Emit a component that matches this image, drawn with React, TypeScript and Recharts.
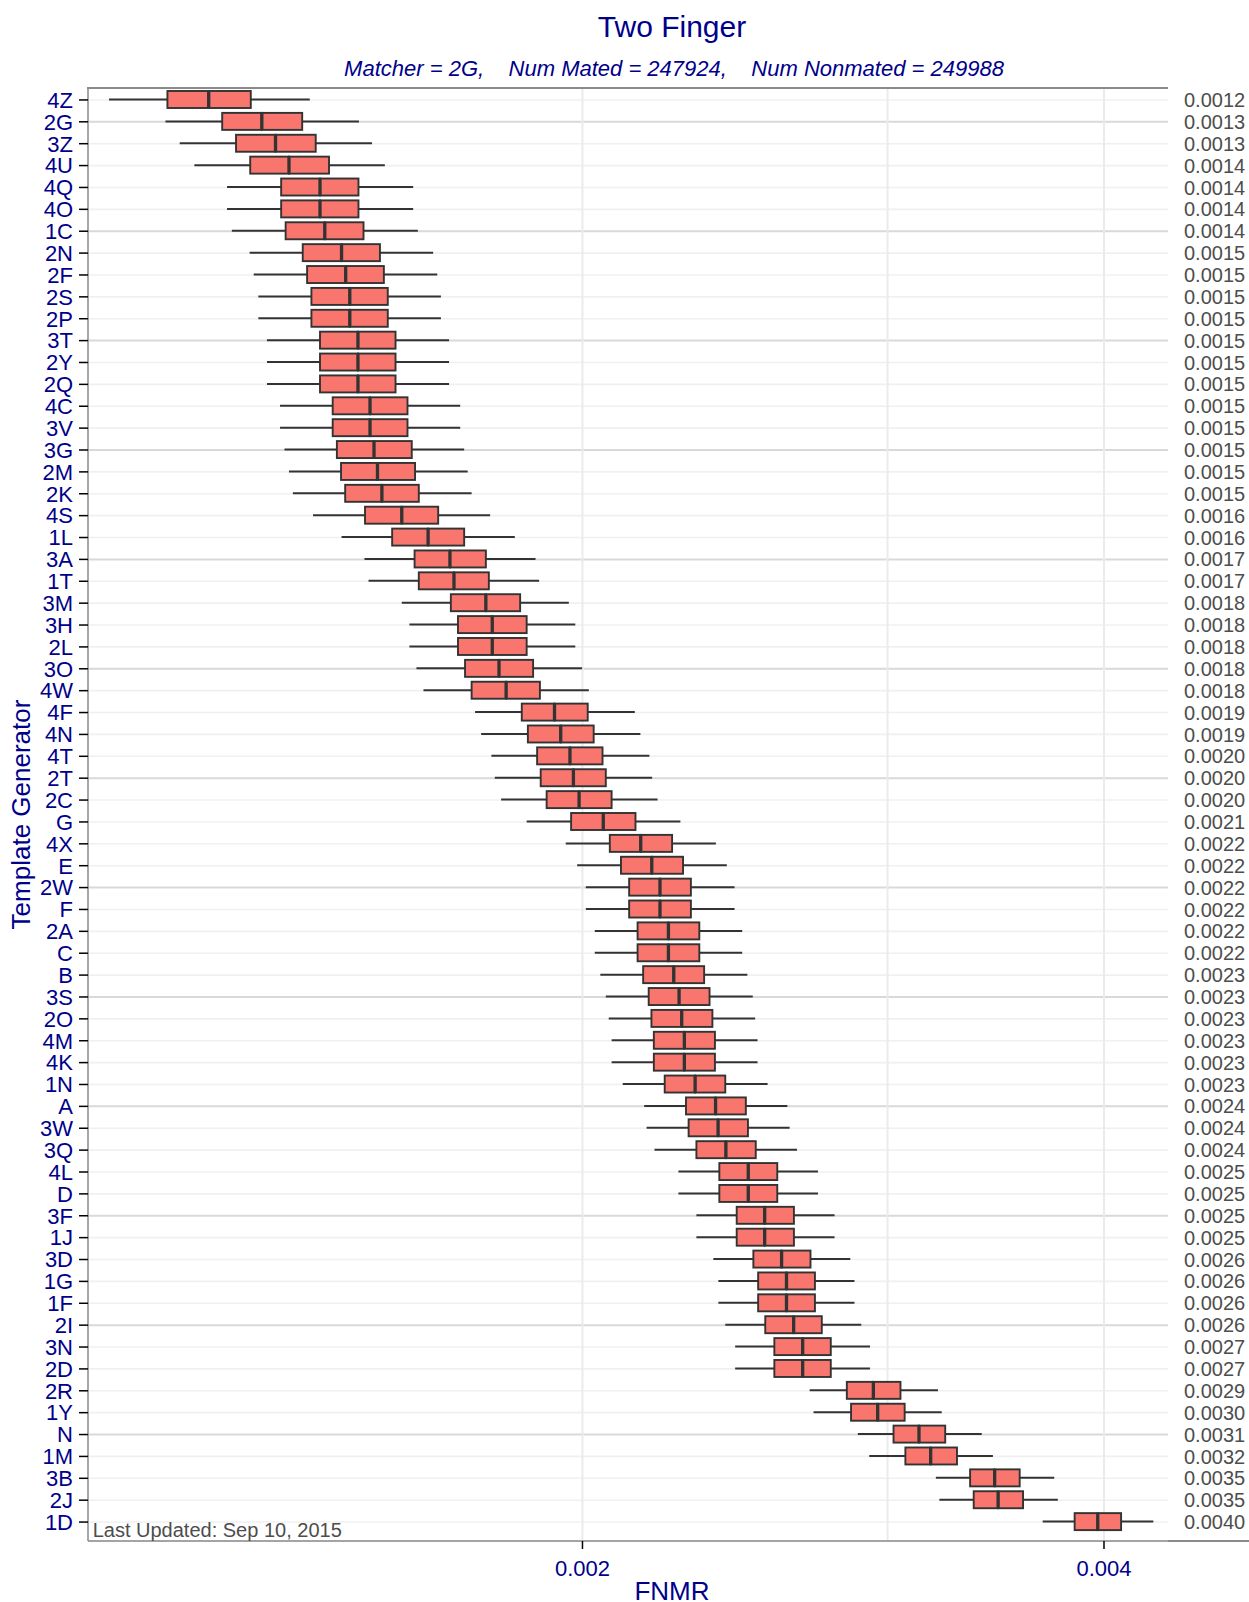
import { Bar, CartesianGrid, ComposedChart, XAxis, YAxis } from 'recharts'

// template generators, top to bottom
const generators = ['4Z', '2G', '3Z', '4U', '4Q', '4O', '1C', '2N', '2F', '2S', '2P', '3T', '2Y', '2Q', '4C', '3V', '3G', '2M', '2K', '4S', '1L', '3A', '1T', '3M', '3H', '2L', '3O', '4W', '4F', '4N', '4T', '2T', '2C', 'G', '4X', 'E', '2W', 'F', '2A', 'C', 'B', '3S', '2O', '4M', '4K', '1N', 'A', '3W', '3Q', '4L', 'D', '3F', '1J', '3D', '1G', '1F', '2I', '3N', '2D', '2R', '1Y', 'N', '1M', '3B', '2J', '1D']

const whiskerLow = [0.001066, 0.001149, 0.001171, 0.001194, 0.001247, 0.001247, 0.001255, 0.001285, 0.001292, 0.0013, 0.0013, 0.001315, 0.001315, 0.001315, 0.001338, 0.001338, 0.001346, 0.001354, 0.001361, 0.001398, 0.001452, 0.001497, 0.001505, 0.001573, 0.001589, 0.001589, 0.001604, 0.001619, 0.001734, 0.001748, 0.001772, 0.00178, 0.001795, 0.001857, 0.001956, 0.001986, 0.002009, 0.002009, 0.002033, 0.002033, 0.002048, 0.002063, 0.002071, 0.002079, 0.002079, 0.00211, 0.002171, 0.002178, 0.002201, 0.002272, 0.002272, 0.002327, 0.002327, 0.00238, 0.002396, 0.002396, 0.002418, 0.00245, 0.00245, 0.002705, 0.002719, 0.002884, 0.002928, 0.003199, 0.003214, 0.003687]

const lowerQuartile = [0.001152, 0.001239, 0.001262, 0.001286, 0.00134, 0.00134, 0.001348, 0.001379, 0.001387, 0.001395, 0.001395, 0.001411, 0.001411, 0.001411, 0.001435, 0.001435, 0.001443, 0.001451, 0.001459, 0.001498, 0.001553, 0.0016, 0.001609, 0.001679, 0.001695, 0.001695, 0.001711, 0.001726, 0.001845, 0.00186, 0.001883, 0.001892, 0.001907, 0.00197, 0.002074, 0.002105, 0.002128, 0.002128, 0.002152, 0.002152, 0.002168, 0.002184, 0.002192, 0.002199, 0.002199, 0.002231, 0.002295, 0.002303, 0.002327, 0.002399, 0.002399, 0.002455, 0.002455, 0.00251, 0.002526, 0.002526, 0.00255, 0.002581, 0.002581, 0.002842, 0.002858, 0.003024, 0.003072, 0.003348, 0.003364, 0.003847]

const medianFnmr = [0.001217, 0.001306, 0.00133, 0.001354, 0.001411, 0.001411, 0.00142, 0.001452, 0.00146, 0.001468, 0.001468, 0.001484, 0.001484, 0.001484, 0.001508, 0.001508, 0.001516, 0.001523, 0.001532, 0.001573, 0.001629, 0.001677, 0.001686, 0.001759, 0.001774, 0.001774, 0.00179, 0.001807, 0.001927, 0.001943, 0.001967, 0.001976, 0.001991, 0.002056, 0.002161, 0.002193, 0.002217, 0.002217, 0.002242, 0.002242, 0.002258, 0.002274, 0.002282, 0.00229, 0.00229, 0.002323, 0.002387, 0.002395, 0.00242, 0.002493, 0.002493, 0.002548, 0.002548, 0.002606, 0.002623, 0.002623, 0.002648, 0.00268, 0.00268, 0.002944, 0.002961, 0.003128, 0.003177, 0.003459, 0.003475, 0.003967]

const upperQuartile = [0.001287, 0.001378, 0.001403, 0.001428, 0.001485, 0.001485, 0.001495, 0.001528, 0.001536, 0.001544, 0.001544, 0.00156, 0.00156, 0.00156, 0.001585, 0.001585, 0.001594, 0.001601, 0.001609, 0.001651, 0.001709, 0.001759, 0.001766, 0.001841, 0.001857, 0.001857, 0.001873, 0.00189, 0.002014, 0.00203, 0.002054, 0.002063, 0.002079, 0.002146, 0.002253, 0.002286, 0.00231, 0.00231, 0.002336, 0.002336, 0.002351, 0.002368, 0.002377, 0.002385, 0.002385, 0.002418, 0.002485, 0.002492, 0.002518, 0.002591, 0.002591, 0.002649, 0.002649, 0.002708, 0.002724, 0.002724, 0.002749, 0.002782, 0.002782, 0.003052, 0.003069, 0.003239, 0.00329, 0.003576, 0.003592, 0.004092]

const whiskerHigh = [0.001392, 0.001486, 0.001512, 0.001538, 0.001597, 0.001597, 0.001607, 0.00164, 0.001649, 0.001657, 0.001657, 0.001675, 0.001675, 0.001675, 0.0017, 0.0017, 0.001709, 0.001717, 0.001726, 0.001769, 0.001828, 0.001879, 0.001888, 0.001964, 0.001981, 0.001981, 0.001999, 0.002017, 0.002144, 0.00216, 0.002186, 0.002194, 0.00221, 0.002278, 0.002388, 0.002423, 0.002448, 0.002448, 0.002473, 0.002473, 0.00249, 0.002508, 0.002516, 0.002524, 0.002524, 0.002558, 0.002626, 0.002634, 0.00266, 0.002735, 0.002735, 0.002796, 0.002796, 0.002855, 0.002871, 0.002871, 0.002897, 0.002931, 0.002931, 0.003208, 0.003224, 0.0034, 0.003451, 0.003744, 0.003762, 0.004271]

// printed medians down the right side
const medianLabels = ['0.0012', '0.0013', '0.0013', '0.0014', '0.0014', '0.0014', '0.0014', '0.0015', '0.0015', '0.0015', '0.0015', '0.0015', '0.0015', '0.0015', '0.0015', '0.0015', '0.0015', '0.0015', '0.0015', '0.0016', '0.0016', '0.0017', '0.0017', '0.0018', '0.0018', '0.0018', '0.0018', '0.0018', '0.0019', '0.0019', '0.0020', '0.0020', '0.0020', '0.0021', '0.0022', '0.0022', '0.0022', '0.0022', '0.0022', '0.0022', '0.0023', '0.0023', '0.0023', '0.0023', '0.0023', '0.0023', '0.0024', '0.0024', '0.0024', '0.0025', '0.0025', '0.0025', '0.0025', '0.0026', '0.0026', '0.0026', '0.0026', '0.0027', '0.0027', '0.0029', '0.0030', '0.0031', '0.0032', '0.0035', '0.0035', '0.0040']

const xTicks = [0.002, 0.004]
const xGrid = [0.002, 0.003, 0.004]
const xDomain = [0.0010366, 0.0043552]

const rows = generators.map((name, i) => ({
  name,
  lo: whiskerLow[i],
  q1: lowerQuartile[i],
  med: medianFnmr[i],
  q3: upperQuartile[i],
  hi: whiskerHigh[i],
}))
const labelByName: Record<string, string> = {}
generators.forEach((g, i) => { labelByName[g] = medianLabels[i] })

const NAVY = '#00008B'
const INK = '#333333'
const FRAME = '#8a8a8a'
const BOX = 17

const Whisker = (p: any) => {
  const cy = p.y + p.height / 2
  return <line x1={p.x} x2={p.x + p.width} y1={cy} y2={cy} stroke={INK} strokeWidth={2} />
}

const LowerBox = (p: any) => (
  <rect x={p.x} y={p.y} width={p.width} height={p.height} fill="#F8766D" stroke={INK} strokeWidth={1.9} />
)

const UpperBox = (p: any) => (
  <g>
    <rect x={p.x} y={p.y} width={p.width} height={p.height} fill="#F8766D" stroke={INK} strokeWidth={1.9} />
    <line x1={p.x} x2={p.x} y1={p.y} y2={p.y + p.height} stroke={INK} strokeWidth={3.3} />
  </g>
)

const gridRow = (p: any) => {
  const major = p.index % 5 === 1
  return (
    <line key={p.key} x1={p.x1} x2={p.x2} y1={p.y1} y2={p.y2}
      stroke={major ? '#d9d9d9' : '#f0f0f0'} strokeWidth={major ? 2 : 1.6} />
  )
}

const YTitle = (p: any) => {
  const cy = p.viewBox ? p.viewBox.y + p.viewBox.height / 2 : 815
  return (
    <text x={30} y={cy} transform={`rotate(-90 30 ${cy})`} textAnchor="middle" fill={NAVY} fontSize={26}>
      Template Generator
    </text>
  )
}

const XTitle = () => (
  <text x={672} y={1600} textAnchor="middle" fill={NAVY} fontSize={26}>FNMR</text>
)

export default function App() {
  return (
    <div style={{ position: 'absolute', left: 0, top: 0, width: 1249, height: 1602, background: '#fff', fontFamily: '"Liberation Sans", Arial, sans-serif' }}>
      <div style={{ position: 'absolute', left: 672, top: 11.6, transform: 'translateX(-50%)', fontSize: 30, lineHeight: 1, color: NAVY, whiteSpace: 'nowrap' }}>
        Two Finger
      </div>
      <div style={{ position: 'absolute', left: 674, top: 58, transform: 'translateX(-50%)', fontSize: 22, lineHeight: 1, color: NAVY, fontStyle: 'italic', whiteSpace: 'pre' }}>
        {'Matcher = 2G,    Num Mated = 247924,    Num Nonmated = 249988'}
      </div>

      <ComposedChart width={1249} height={1602} data={rows} layout="vertical" barGap={-BOX}
        margin={{ top: 88, right: 0, bottom: 0, left: 28 }}>
        <CartesianGrid horizontal={gridRow} verticalValues={xGrid} stroke="#ebebeb" strokeWidth={2} />
        <XAxis type="number" scale="log" domain={xDomain} allowDataOverflow ticks={xTicks}
          tickFormatter={(v) => String(v)} height={61} tickSize={8} tickMargin={11}
          tick={{ fill: NAVY, fontSize: 22 }} tickLine={{ stroke: '#000', strokeWidth: 1.5 }}
          axisLine={{ stroke: FRAME, strokeWidth: 1.5 }} label={<XTitle />} />
        <YAxis type="category" dataKey="name" width={60} interval={0} tickSize={9} tickMargin={6}
          padding={{ top: 1, bottom: 8 }} tick={{ fill: NAVY, fontSize: 22 }}
          tickLine={{ stroke: '#000', strokeWidth: 1.5 }} axisLine={{ stroke: FRAME, strokeWidth: 1.5 }}
          label={<YTitle />} />
        <YAxis yAxisId="right" orientation="right" type="category" dataKey="name" width={81} interval={0}
          tickSize={0} tickLine={false} tickMargin={16} axisLine={false} padding={{ top: 1, bottom: 8 }}
          tick={{ fill: '#4d4d4d', fontSize: 20 }} tickFormatter={(v) => labelByName[v]} />
        <Bar yAxisId="right" dataKey={(d: any) => [d.lo, d.hi]} barSize={BOX} shape={Whisker} isAnimationActive={false} />
        <Bar dataKey={(d: any) => [d.q1, d.med]} barSize={BOX} shape={LowerBox} isAnimationActive={false} />
        <Bar dataKey={(d: any) => [d.med, d.q3]} barSize={BOX} shape={UpperBox} isAnimationActive={false} />
      </ComposedChart>

      <div style={{ position: 'absolute', left: 87.25, top: 87.25, width: 1081, height: 1.5, background: FRAME }} />
      <div style={{ position: 'absolute', left: 1168, top: 1540.25, width: 81, height: 1.5, background: FRAME }} />
      <div style={{ position: 'absolute', left: 92.7, top: 1519.8, fontSize: 20, lineHeight: 1, color: '#4d4d4d', whiteSpace: 'nowrap' }}>
        Last Updated: Sep 10, 2015
      </div>
    </div>
  )
}
